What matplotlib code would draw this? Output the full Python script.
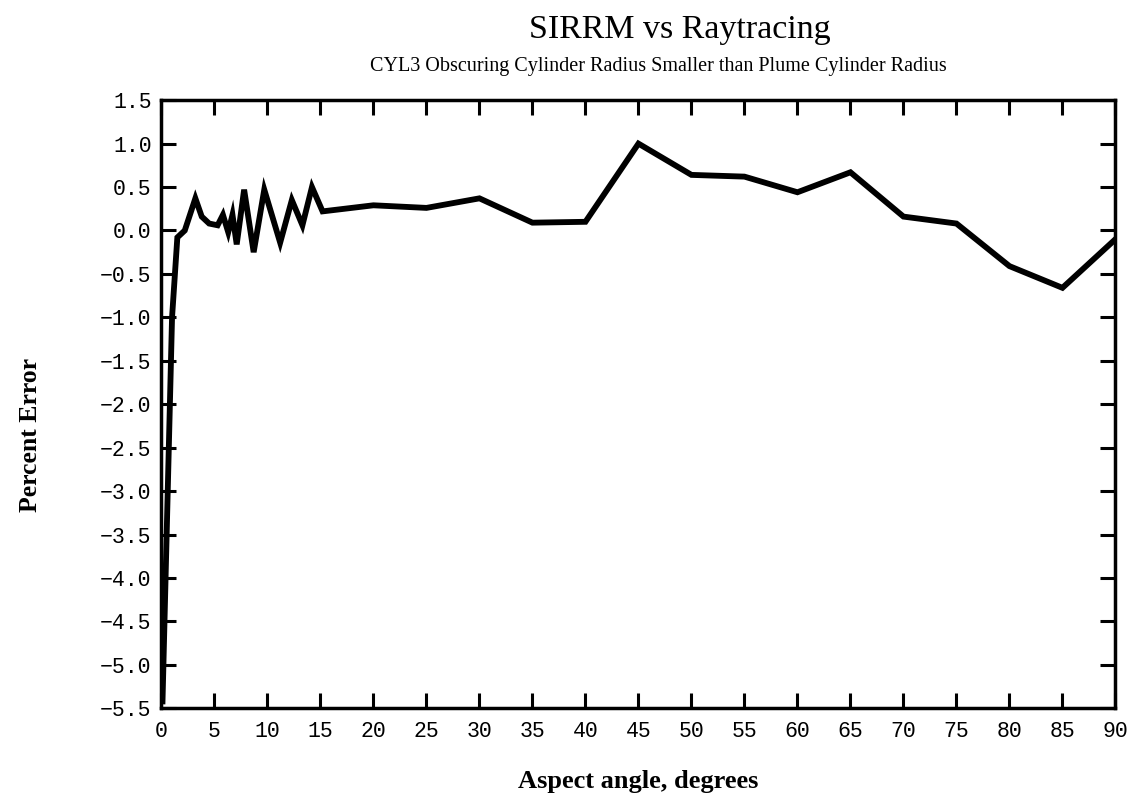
import matplotlib
matplotlib.use("Agg")
import matplotlib.pyplot as plt
from matplotlib.ticker import MultipleLocator, FuncFormatter

# Data
aspect_deg = [0.1, 1.0, 1.5, 2.2, 3.2, 3.8, 4.5, 5.3, 5.8, 6.3, 6.7, 7.1, 7.8,
              8.7, 9.7, 11.2, 12.3, 13.3, 14.2, 15.2, 20, 25, 30, 35, 40, 45,
              50, 55, 60, 65, 70, 75, 80, 85, 90]
percent_error = [-5.42, -1.0, -0.08, 0.0, 0.37, 0.16, 0.08, 0.06, 0.18, -0.02,
                 0.18, -0.16, 0.47, -0.25, 0.47, -0.14, 0.35, 0.06, 0.50, 0.22,
                 0.29, 0.26, 0.37, 0.09, 0.10, 1.0, 0.64, 0.62, 0.44, 0.67,
                 0.16, 0.08, -0.41, -0.66, -0.10]

title = "SIRRM vs Raytracing"
subtitle = "CYL3 Obscuring Cylinder Radius Smaller than Plume Cylinder Radius"
xlabel = "Aspect angle, degrees"
ylabel = "Percent Error"

fig = plt.figure(figsize=(11.29, 7.95), dpi=100)
ax = fig.add_axes([0.143, 0.109, 0.845, 0.765])

ax.plot(aspect_deg, percent_error, color="black", linewidth=4.2,
        solid_joinstyle="miter")

ax.set_xlim(0, 90)
ax.set_ylim(-5.5, 1.5)
ax.xaxis.set_major_locator(MultipleLocator(5))
ax.yaxis.set_major_locator(MultipleLocator(0.5))
ax.yaxis.set_major_formatter(
    FuncFormatter(lambda v, p: f"{v:.1f}".replace("-", "\u2212")))

ax.tick_params(direction="in", length=11, width=2.2, top=True, right=True,
               labelsize=15.5)
ax.tick_params(axis="x", pad=9)
ax.tick_params(axis="y", pad=7)
for lab in ax.get_xticklabels() + ax.get_yticklabels():
    lab.set_family(["Liberation Mono", "DejaVu Sans Mono"])
for sp in ax.spines.values():
    sp.set_linewidth(2.5)

serif = ["Liberation Serif", "DejaVu Serif"]
fig.text(0.602, 0.962, title, ha="center", va="center", fontsize=24.5,
         family=serif)
fig.text(0.583, 0.916, subtitle, ha="center", va="center", fontsize=14.5,
         family=serif)
ax.set_xlabel(xlabel, fontsize=19, family=serif, fontweight="bold",
              labelpad=20)
ax.set_ylabel(ylabel, fontsize=18.5, family=serif, fontweight="bold")
ax.yaxis.set_label_coords(-0.125, 0.45)

fig.savefig("out.png", dpi=100)
